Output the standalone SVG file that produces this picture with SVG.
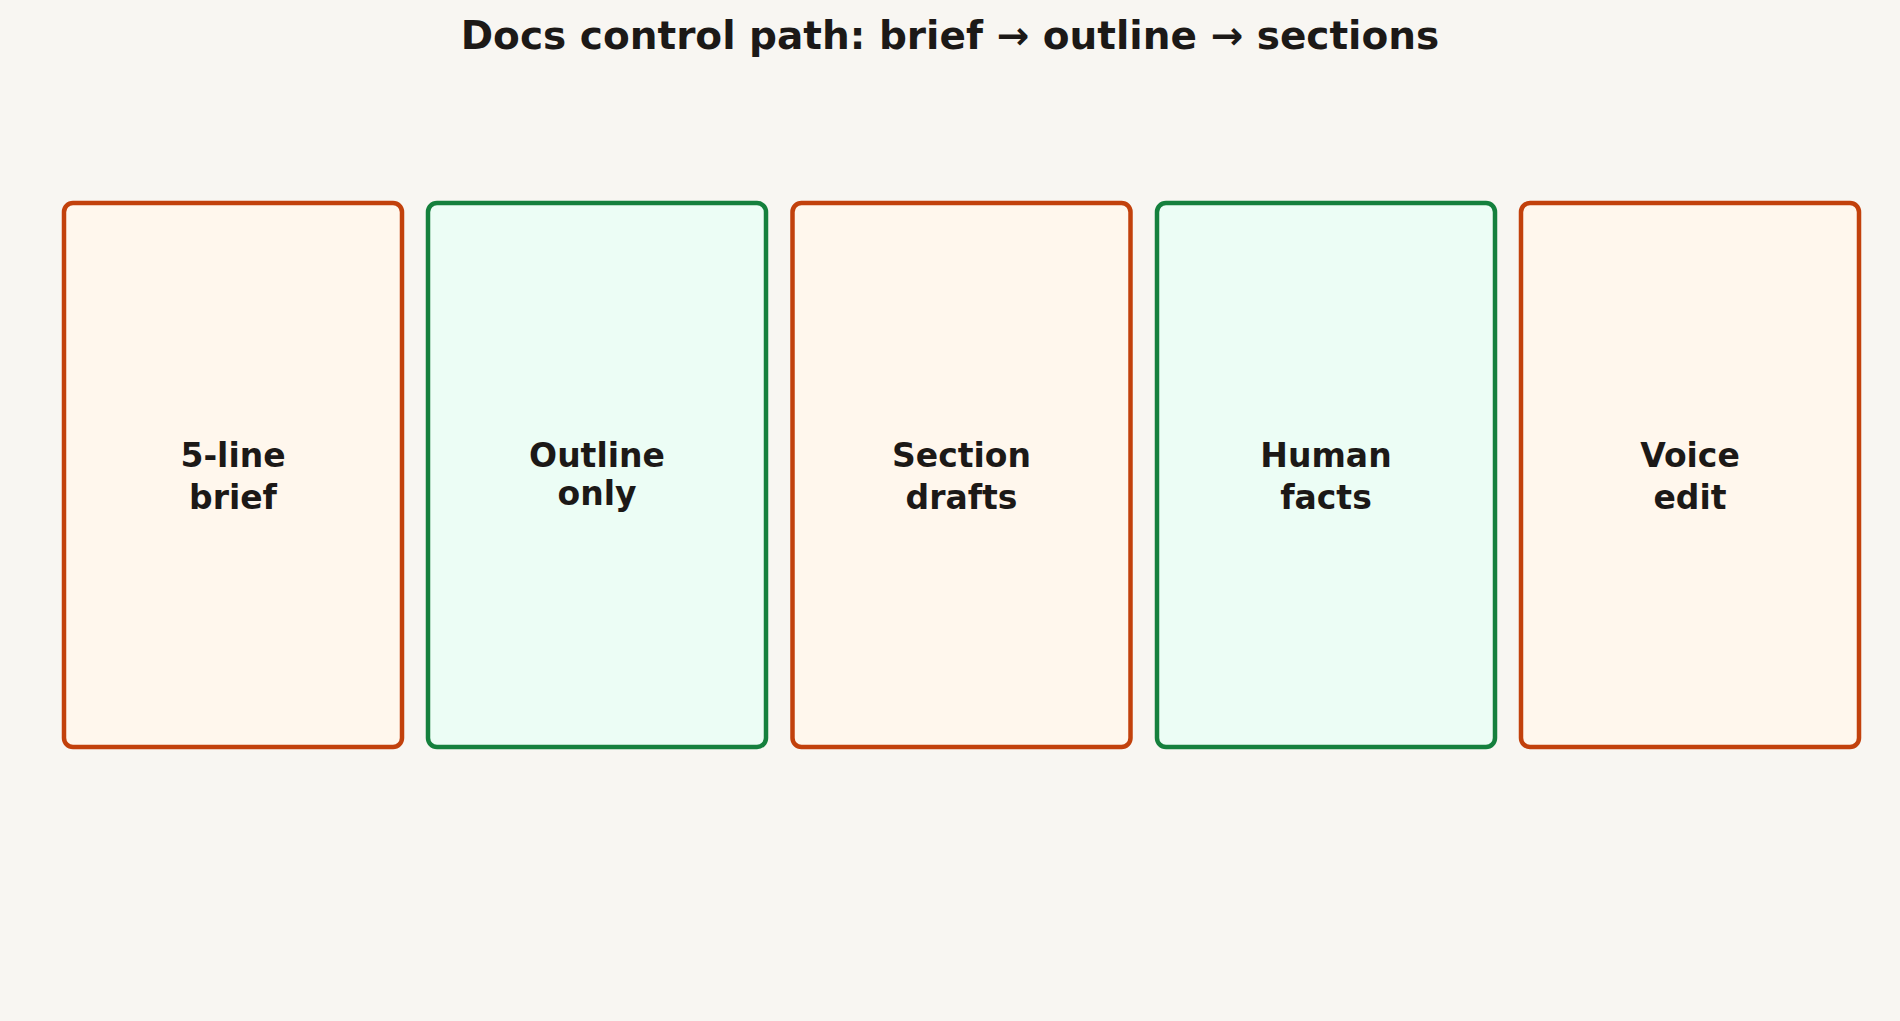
<svg xmlns="http://www.w3.org/2000/svg" width="1900" height="1021" viewBox="0 0 1900 1021">
<style>
.bg{fill:#f8f6f2}
.title{font-family:"DejaVu Sans",Verdana,sans-serif;font-weight:bold;font-size:39px;fill:#1c1917;text-anchor:middle}
.lbl{font-family:"DejaVu Sans",Verdana,sans-serif;font-weight:bold;font-size:33px;fill:#1c1917;text-anchor:middle}
.warm{fill:#fff7ed;stroke:#c2410c;stroke-width:4.5}
.cool{fill:#ecfdf5;stroke:#15803d;stroke-width:4.5}
</style>
<rect class="bg" x="0" y="0" width="1900" height="1021"/>
<text class="title" x="950" y="49">Docs control path: brief → outline → sections</text>
<g id="n1"><rect class="warm" x="64" y="203" width="338" height="544" rx="9"/><text class="lbl" x="233" y="467">5-line</text><text class="lbl" x="233" y="509">brief</text></g>
<g id="n2"><rect class="cool" x="428" y="203" width="338" height="544" rx="9"/><text class="lbl" x="597" y="467">Outline</text><text class="lbl" x="597" y="505">only</text></g>
<g id="n3"><rect class="warm" x="792.5" y="203" width="338" height="544" rx="9"/><text class="lbl" x="961.5" y="467">Section</text><text class="lbl" x="961.5" y="509">drafts</text></g>
<g id="n4"><rect class="cool" x="1157" y="203" width="338" height="544" rx="9"/><text class="lbl" x="1326" y="467">Human</text><text class="lbl" x="1326" y="509">facts</text></g>
<g id="n5"><rect class="warm" x="1521" y="203" width="338" height="544" rx="9"/><text class="lbl" x="1690" y="467">Voice</text><text class="lbl" x="1690" y="509">edit</text></g>
<g id="connectors"></g>
</svg>
